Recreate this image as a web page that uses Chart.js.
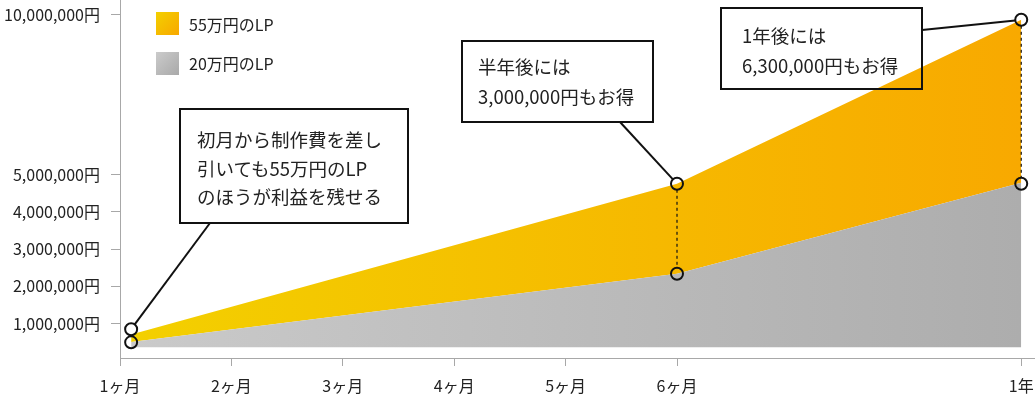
<!DOCTYPE html>
<html lang="ja">
<head>
<meta charset="utf-8">
<title>LP比較</title>
<script src="https://cdn.jsdelivr.net/npm/chart.js@4/dist/chart.umd.min.js"></script>
<style>
  body { margin: 0; background: #fff; font-family: "Noto Sans CJK JP", "Noto Sans", sans-serif; color: #222; }
  .wrap { position: relative; width: 1035px; height: 398px; }
  .legend-box { position: absolute; left: 156px; width: 23px; height: 23px; }
  .legend-text { position: absolute; left: 189px; font-size: 16px; line-height: 20px; }
  .note { position: absolute; border: 2px solid #111; box-sizing: border-box; }
  .note-text { position: absolute; font-size: 18.5px; white-space: nowrap; }
</style>
</head>
<body>
<div class="wrap">
  <canvas id="lpChart" width="1035" height="398"></canvas>

  <div class="legend-box" style="top:12px;background:linear-gradient(135deg,#f3d000,#f8a800);"></div>
  <div class="legend-text" style="top:14px;">55万円のLP</div>
  <div class="legend-box" style="top:52px;background:linear-gradient(135deg,#cbcbcb,#a9a9a9);"></div>
  <div class="legend-text" style="top:53px;">20万円のLP</div>

  <div class="note" style="left:179px;top:108px;width:230px;height:116px;"></div>
  <div class="note-text" style="left:197px;top:125px;line-height:28.5px;">初月から制作費を差し<br>引いても55万円のLP<br>のほうが利益を残せる</div>

  <div class="note" style="left:461px;top:40px;width:193px;height:83px;"></div>
  <div class="note-text" style="left:478px;top:51px;line-height:30px;">半年後には<br>3,000,000円もお得</div>

  <div class="note" style="left:720px;top:7px;width:203px;height:83px;"></div>
  <div class="note-text" style="left:742px;top:20px;line-height:30px;">1年後には<br>6,300,000円もお得</div>
</div>

<script>
// months on x (1.1 = where the areas start, just after 1ヶ月)
const months = [1.1, 6, 12];
const lp55 = [710000, 4750000, 9850000];
const lp20 = [510000, 2340000, 4780000];
const areaBase = 370000;

const xTickValues = [1, 2, 3, 4, 5, 6, 12];
const xTickLabels = ['1ヶ月', '2ヶ月', '3ヶ月', '4ヶ月', '5ヶ月', '6ヶ月', '1年'];
const yTickValues = [1000000, 2000000, 3000000, 4000000, 5000000, 10000000];

// circles on the chart that the notes point at
const markerX = [1.1, 1.1, 6, 6, 12, 12];
const markerY = [850000, 500000, 4750000, 2340000, 9850000, 4750000];

// linear scale that gets squeezed after a break value (both axes of the original do this)
class BrokenLinearScale extends Chart.LinearScale {
  _fwd(v) {
    const b = this.options.brk, r = this.options.ratio;
    return v <= b ? v : b + (v - b) * r;
  }
  _back(t) {
    const b = this.options.brk, r = this.options.ratio;
    return t <= b ? t : b + (t - b) / r;
  }
  getPixelForValue(value) {
    if (value === null || value === undefined) return NaN;
    const lo = this._fwd(this.min), hi = this._fwd(this.max);
    return this.getPixelForDecimal((this._fwd(value) - lo) / (hi - lo));
  }
  getValueForPixel(pixel) {
    const lo = this._fwd(this.min), hi = this._fwd(this.max);
    return this._back(lo + this.getDecimalForPixel(pixel) * (hi - lo));
  }
}
BrokenLinearScale.id = 'brokenLinear';
BrokenLinearScale.defaults = Chart.LinearScale.defaults;
Chart.register(BrokenLinearScale);

const gradient = (chart, from, to) => {
  const area = chart.chartArea;
  if (!area) return from;
  const g = chart.ctx.createLinearGradient(area.left + 10, 0, area.right - 14, 0);
  g.addColorStop(0, from);
  g.addColorStop(1, to);
  return g;
};

// leader line from each box to its circle, stopping at the circle edge
const leaders = [
  { from: [210, 223], marker: 0 },
  { from: [620, 122], marker: 2 },
  { from: [922, 30], marker: 4 }
];
const dashed = [[2, 3], [4, 5]];

const notesPlugin = {
  id: 'notes',
  afterDatasetsDraw(chart) {
    const { ctx, scales } = chart;
    const px = i => [scales.x.getPixelForValue(markerX[i]), scales.y.getPixelForValue(markerY[i])];
    const r = 6;
    ctx.save();
    ctx.strokeStyle = '#111';
    ctx.lineWidth = 2;
    leaders.forEach(l => {
      const [cx, cy] = px(l.marker);
      const dx = cx - l.from[0], dy = cy - l.from[1];
      const len = Math.hypot(dx, dy);
      ctx.beginPath();
      ctx.moveTo(l.from[0], l.from[1]);
      ctx.lineTo(cx - dx / len * r, cy - dy / len * r);
      ctx.stroke();
    });
    ctx.lineWidth = 1.2;
    ctx.setLineDash([3, 3]);
    dashed.forEach(([a, b]) => {
      const [ax, ay] = px(a);
      const [, by] = px(b);
      ctx.beginPath();
      ctx.moveTo(ax, ay + r);
      ctx.lineTo(ax, by - r);
      ctx.stroke();
    });
    ctx.restore();
  }
};

const tickFont = { family: '"Noto Sans CJK JP", "Noto Sans", sans-serif', size: 16 };
const axisGray = '#a8a8a8';

new Chart(document.getElementById('lpChart'), {
  type: 'line',
  data: {
    datasets: [
      {
        label: 'markers',
        data: markerX.map((x, i) => ({ x, y: markerY[i] })),
        showLine: false,
        pointRadius: 6,
        pointBorderWidth: 2,
        pointBorderColor: '#111',
        pointBackgroundColor: 'rgba(0,0,0,0)',
        order: 0
      },
      {
        label: '55万円のLP',
        data: months.map((x, i) => ({ x, y: lp55[i] })),
        backgroundColor: c => gradient(c.chart, '#f3d000', '#f8a900'),
        borderWidth: 0,
        pointRadius: 0,
        fill: '+1',
        order: 2
      },
      {
        label: '20万円のLP',
        data: months.map((x, i) => ({ x, y: lp20[i] })),
        backgroundColor: c => gradient(c.chart, '#cacaca', '#adadad'),
        borderWidth: 0,
        pointRadius: 0,
        fill: { value: areaBase },
        order: 1
      }
    ]
  },
  options: {
    responsive: false,
    animation: false,
    devicePixelRatio: 1,
    layout: { padding: 0, autoPadding: false },
    plugins: {
      legend: { display: false },
      tooltip: { enabled: false }
    },
    scales: {
      x: {
        type: 'brokenLinear',
        brk: 6,
        ratio: 0.515,
        min: 1,
        max: 12.24,
        bounds: 'data',
        border: { color: axisGray, width: 1 },
        grid: { drawOnChartArea: false, tickLength: 8, tickColor: axisGray, color: axisGray },
        ticks: {
          font: tickFont,
          color: '#222',
          padding: 10,
          maxRotation: 0,
          autoSkip: false,
          callback: (v, i) => xTickLabels[i]
        },
        afterBuildTicks: s => { s.ticks = xTickValues.map(v => ({ value: v })); },
        afterFit: s => {
          s.height = 40;
          s.paddingLeft = 0; s.paddingRight = 0;
        }
      },
      y: {
        type: 'brokenLinear',
        brk: 5000000,
        ratio: 0.855,
        min: 80000,
        max: 10470000,
        bounds: 'data',
        border: { color: axisGray, width: 1 },
        grid: { drawOnChartArea: false, tickLength: 9, tickColor: axisGray, color: axisGray },
        ticks: {
          font: tickFont,
          color: '#222',
          padding: 11,
          autoSkip: false,
          callback: v => v.toLocaleString('en-US') + '円'
        },
        afterBuildTicks: s => { s.ticks = yTickValues.map(v => ({ value: v })); },
        afterFit: s => {
          s.width = 120;
          s.paddingTop = 0; s.paddingBottom = 0;
        }
      }
    }
  },
  plugins: [notesPlugin]
});
</script>
</body>
</html>
